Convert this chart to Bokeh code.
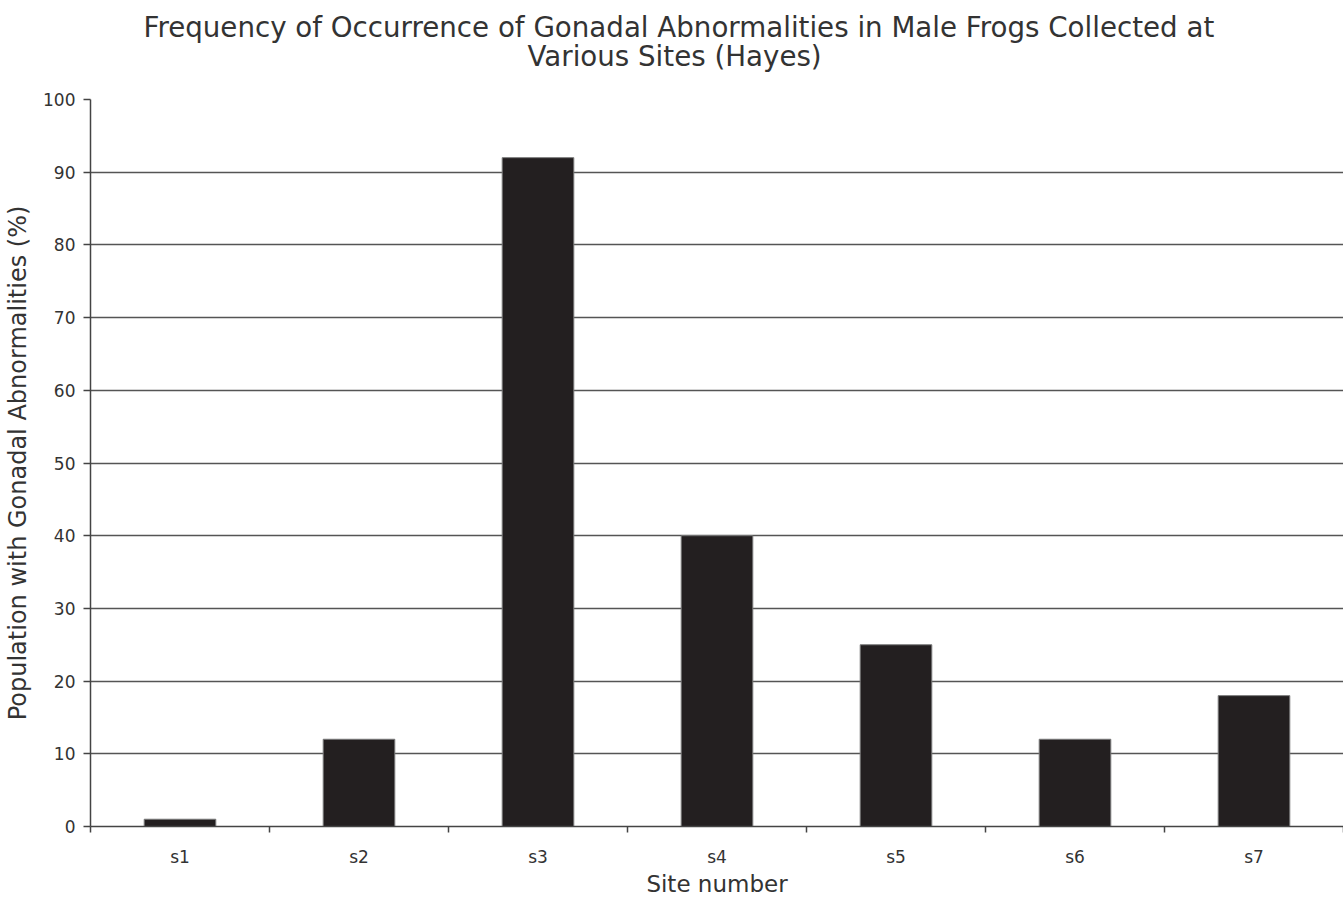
from bokeh.plotting import figure
from bokeh.models import Range1d, FixedTicker, Grid, Title
from bokeh.embed import file_html
from bokeh.resources import INLINE

# Data
sites = ["s1", "s2", "s3", "s4", "s5", "s6", "s7"]
abnormal_pct = [1, 12, 92, 40, 25, 12, 18]
y_ticks = [0, 10, 20, 30, 40, 50, 60, 70, 80, 90, 100]
title_lines = ["Frequency of Occurrence of Gonadal Abnormalities in Male Frogs Collected at",
               "Various Sites (Hayes)"]

FONT = "DejaVu Sans"
centers = [i + 0.5 for i in range(len(sites))]
bounds = list(range(len(sites) + 1))

p = figure(width=1343, height=901, output_backend="svg", toolbar_location=None,
           x_range=Range1d(0, len(sites)), y_range=Range1d(0, 100),
           min_border_left=90, min_border_right=0, min_border_top=99, min_border_bottom=75)
p.title.visible = False

# later-added titles sit further from the frame (line 2 first, then line 1)
p.add_layout(Title(text=title_lines[1], align="left", text_font=FONT, text_font_size="27.7px",
                   text_font_style="normal", text_color="#333333", offset=437,
                   standoff=54), "above")
p.add_layout(Title(text=title_lines[0], align="left", text_font=FONT, text_font_size="27.7px",
                   text_font_style="normal", text_color="#333333", offset=53,
                   standoff=-66), "above")

p.vbar(x=centers, top=abnormal_pct, width=0.4, bottom=0,
       fill_color="#231f20", line_color="#7a7a7a", line_width=1)

p.outline_line_color = None
p.background_fill_color = "white"
p.border_fill_color = "white"

# Grids
p.xgrid.visible = False
p.ygrid.ticker = FixedTicker(ticks=y_ticks[:-1])
p.ygrid.grid_line_color = "#555555"
p.ygrid.grid_line_width = 1.5
top_grid = Grid(dimension=1, ticker=FixedTicker(ticks=[100]), grid_line_color="#a8a8a8", grid_line_width=1.5)
p.add_layout(top_grid)

# Y axis
ya = p.yaxis[0]
ya.ticker = FixedTicker(ticks=y_ticks)
ya.axis_label = "Population with Gonadal Abnormalities (%)"
ya.axis_label_text_font = FONT
ya.axis_label_text_font_size = "24px"
ya.axis_label_text_font_style = "normal"
ya.axis_label_text_color = "#333333"
ya.axis_label_standoff = 8
ya.major_label_text_font = FONT
ya.major_label_text_font_size = "17px"
ya.major_label_text_color = "#333333"
ya.major_label_standoff = 8
ya.major_tick_in = 0
ya.major_tick_out = 7
ya.minor_tick_line_color = None
ya.axis_line_color = "#444444"
ya.axis_line_width = 1.5
ya.major_tick_line_color = "#444444"
ya.major_tick_line_width = 1.5

# X axis: labels at centers, ticks at category boundaries
xa = p.xaxis[0]
xa.ticker = FixedTicker(ticks=centers, minor_ticks=bounds)
xa.major_label_overrides = {c: s for c, s in zip(centers, sites)}
xa.major_tick_line_color = None
xa.major_tick_out = 6
xa.major_tick_in = 0
xa.minor_tick_in = 0
xa.minor_tick_out = 6
xa.minor_tick_line_color = "#444444"
xa.minor_tick_line_width = 1.5
xa.axis_line_color = "#444444"
xa.axis_line_width = 1.5
xa.axis_label = "Site number"
xa.axis_label_text_font = FONT
xa.axis_label_text_font_size = "23px"
xa.axis_label_text_font_style = "normal"
xa.axis_label_text_color = "#333333"
xa.axis_label_standoff = 1
xa.major_label_text_font = FONT
xa.major_label_text_font_size = "17px"
xa.major_label_text_color = "#333333"
xa.major_label_standoff = 14

open("out.html", "w").write(file_html(p, INLINE))
